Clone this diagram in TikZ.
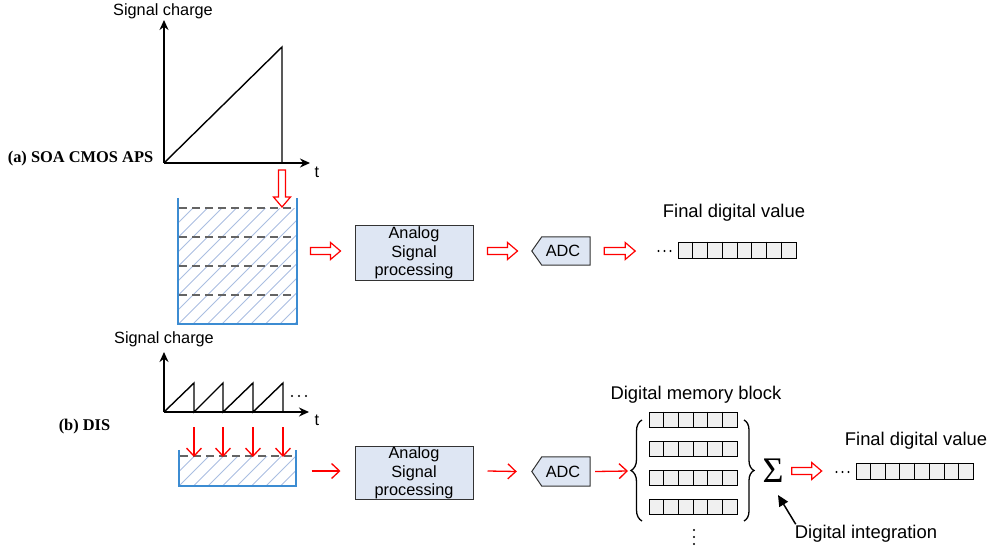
\documentclass[tikz,border=0pt]{standalone}
\usepackage{fontspec}
\setmainfont{Liberation Sans}
\newfontfamily\timesfont{Liberation Serif}
\usetikzlibrary{arrows.meta,calc,decorations.pathreplacing}
\definecolor{wallblue}{RGB}{60,140,210}
\definecolor{hatchblue}{RGB}{170,190,225}
\definecolor{boxblue}{RGB}{222,230,243}
\definecolor{cellgray}{RGB}{240,240,240}
\definecolor{dashgray}{RGB}{100,100,100}
\tikzset{
  lbl/.style={font=\fontsize{16.3}{19}\selectfont, inner sep=0pt},
  biglbl/.style={font=\fontsize{18.4}{21}\selectfont, inner sep=0pt},
  boldlbl/.style={font=\timesfont\bfseries\fontsize{16.4}{19}\selectfont, inner sep=0pt},
  aspbox/.style={draw=black!80, line width=1pt, fill=boxblue, minimum width=118pt, minimum height=55pt, inner sep=0pt, align=center, font=\fontsize{16.3}{18.5}\selectfont},
  adcbox/.style={minimum width=58pt, minimum height=28pt, inner sep=0pt, font=\fontsize{16.3}{19}\selectfont},
  adcshape/.style={draw=black!80, line width=1pt, fill=boxblue},
  axisline/.style={line width=1.5pt, -{Stealth[length=10pt,width=9pt]}},
  graphline/.style={line width=1.4pt, line join=miter},
  wall/.style={draw=wallblue, line width=1.8pt},
  lev/.style={draw=dashgray, line width=1.5pt, dash pattern=on 8pt off 5pt},
  hatchline/.style={draw=hatchblue, line width=0.9pt},
  redthin/.style={draw=red, line width=1.3pt, -{Straight Barb[length=8pt,width=15pt,line width=1.3pt]}},
  regbox/.style={draw=black, line width=1pt, fill=cellgray, inner sep=0pt},
  tank/.style={inner sep=0pt},
  dotmark/.style={fill=black, circle, inner sep=0pt, minimum size=2.2pt},
  pics/harrow/.style={code={\draw[red, line width=1.2pt, fill=white, line join=miter]
      (0,-3.5) -- ({#1-10},-3.5) -- ({#1-10},-8.5) -- (#1,0) -- ({#1-10},8.5) -- ({#1-10},3.5) -- (0,3.5) -- cycle;}}
}
\begin{document}
\begin{tikzpicture}[x=1pt,y=-1pt]
\useasboundingbox (0,0) rectangle (991,554);

% ================= (a) =================
\node[lbl] (sigA) at (163,11) {Signal charge};
\node[boldlbl] (labA) at (80.5,159) {(a) SOA CMOS APS};
\coordinate (oA) at (164,163);
\draw[axisline] (oA) -- (164,20);
\draw[axisline] (oA) -- (310,163);
\node[lbl] (tA) at (317,172) {t};
\draw[graphline] (oA) -- (282,47) -- (282,163);

% tank A
\node[tank, minimum width=118pt, minimum height=126pt] (bA) at (237.5,261) {};
\begin{scope}
  \clip (178,208) rectangle (297,324);
  \foreach \k in {0,...,18} \draw[hatchline] ({48+\k*14.5},324) -- ++(130,-130);
\end{scope}
\foreach \yy in {208,237,266,295} \draw[lev] (179,\yy) -- (296,\yy);
\draw[wall] (bA.north west) -- (bA.south west) -- (bA.south east) -- (bA.north east);
\pic[rotate=-90] at (282,170) {harrow=37};

\node[aspbox] (aspA) at (414,253) {Analog\\Signal\\processing};
\pic at ($(aspA.west)+(-44,-2)$) {harrow=30};
\node[adcbox] (adcA) at (561,251) {};
\draw[adcshape] (adcA.north east) -- (adcA.south east) -- ($(adcA.south west)+(10,0)$) -- (adcA.west) -- ($(adcA.north west)+(10,0)$) -- cycle;
\node[adcbox] at ($(adcA.center)+(2,0)$) {ADC};
\pic at ($(aspA.east)+(14,-2)$) {harrow=30};
\pic at ($(adcA.east)+(14,0)$) {harrow=31};

\node[biglbl] (fdvA) at (734,213) {Final digital value};
\node[regbox, minimum width=118pt, minimum height=16pt] (regA) at (737,250) {};
\foreach \i in {1,...,7} \draw[line width=1pt] ($(regA.north west)!\i/8!(regA.north east)$) -- ($(regA.south west)!\i/8!(regA.south east)$);
\foreach \xx in {-19,-13,-7} \node[dotmark] at ($(regA.west)+(\xx,1)$) {};

% ================= (b) =================
\node[lbl] (sigB) at (164,339) {Signal charge};
\node[boldlbl] (labB) at (84.5,427) {(b) DIS};
\coordinate (oB) at (164,412);
\draw[axisline] (oB) -- (164,352);
\draw[axisline] (oB) -- (309,412);
\node[lbl] (tB) at (317,420) {t};
\draw[graphline] (oB) -- (194,383) -- (194,412) -- (223,383) -- (223,412) -- (253,383) -- (253,412) -- (283,383) -- (283,412);
\foreach \xx in {292,299,306} \node[dotmark] at (\xx,396) {};

\node[tank, minimum width=117pt, minimum height=36pt] (bB) at (237.5,468) {};
\begin{scope}
  \clip (179,456) rectangle (296,486);
  \foreach \k in {0,...,11} \draw[hatchline] ({150+\k*14.5},486) -- ++(60,-60);
\end{scope}
\draw[lev] (180,456) -- (295,456);
\draw[wall] (bB.north west) -- (bB.south west) -- (bB.south east) -- (bB.north east);
\foreach \xx in {194,223,253,283} \draw[redthin] (\xx,427) -- (\xx,457);

\node[aspbox, minimum height=53pt] (aspB) at (414,473) {Analog\\Signal\\processing};
\draw[redthin] ($(aspB.west)+(-43,-2)$) -- ($(aspB.west)+(-14,-2)$);
\node[adcbox, minimum height=29pt] (adcB) at (561,471.5) {};
\draw[adcshape] (adcB.north east) -- (adcB.south east) -- ($(adcB.south west)+(10,0)$) -- (adcB.west) -- ($(adcB.north west)+(10,0)$) -- cycle;
\node[adcbox] at ($(adcB.center)+(2,0)$) {ADC};
\draw[redthin] ($(aspB.east)+(14,-2)$) -- ($(adcB.west)+(-15,0)$);

% memory block
\node[biglbl] (dmb) at (696,395) {Digital memory block};
\foreach \r/\yy in {1/419.5,2/449,3/478,4/507} {
  \node[regbox, minimum width=88pt, minimum height=15pt] (mem\r) at (693,\yy) {};
  \foreach \i in {1,...,5} \draw[line width=1pt] ($(mem\r.north west)!\i/6!(mem\r.north east)$) -- ($(mem\r.south west)!\i/6!(mem\r.south east)$);
}
\coordinate (brL) at (642,471);
\draw[line width=1.3pt, decorate, decoration={brace, amplitude=11pt}] (642,521) -- (642,420);
\draw[line width=1.3pt, decorate, decoration={brace, amplitude=10pt}] (744,420) -- (744,521);
\draw[redthin] ($(adcB.east)+(5,0)$) -- ($(brL)+(-14,0)$);
\foreach \yy in {530,537,544} \node[dotmark] at (694,\yy) {};

\node[inner sep=0pt, font=\timesfont\fontsize{36}{36}\selectfont] (sig) at (773,471) {Σ};
\pic at ($(sig.east)+(8,0)$) {harrow=30};
\node[biglbl] (fdvB) at (916,441) {Final digital value};
\node[regbox, minimum width=117pt, minimum height=16pt] (regB) at (914.5,471) {};
\foreach \i in {1,...,7} \draw[line width=1pt] ($(regB.north west)!\i/8!(regB.north east)$) -- ($(regB.south west)!\i/8!(regB.south east)$);
\foreach \xx in {-19,-13,-7} \node[dotmark] at ($(regB.west)+(\xx,1)$) {};

\node[biglbl] (dint) at (866,534) {Digital integration};
\draw[line width=1.5pt, -{Triangle[length=11pt,width=10pt]}] ($(dint.north west)+(1,-1)$) -- (778,495);
\end{tikzpicture}
\end{document}
